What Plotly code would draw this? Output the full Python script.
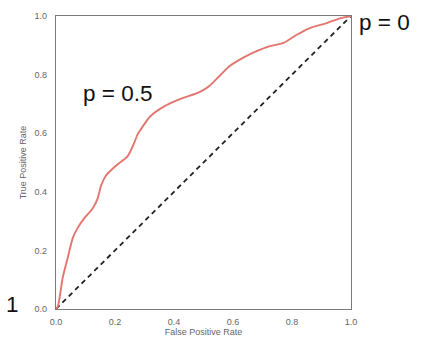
import plotly.graph_objects as go

# ROC curve (false positive rate vs. true positive rate)
fpr = [0.0, 0.006, 0.023, 0.04, 0.057, 0.073, 0.096, 0.124, 0.141, 0.153, 0.169,
       0.203, 0.243, 0.265, 0.277, 0.285, 0.319, 0.364, 0.42, 0.488, 0.522, 0.556,
       0.59, 0.635, 0.68, 0.725, 0.771, 0.816, 0.861, 0.918, 0.963, 1.0]
tpr = [0.0, 0.008, 0.108, 0.176, 0.243, 0.276, 0.31, 0.343, 0.377, 0.422, 0.455,
       0.489, 0.522, 0.567, 0.597, 0.609, 0.657, 0.69, 0.716, 0.741, 0.763, 0.797,
       0.83, 0.858, 0.88, 0.897, 0.908, 0.936, 0.959, 0.976, 0.992, 1.0]

# chance diagonal
diag = [0.0, 1.0]

tick_vals = [0.0, 0.2, 0.4, 0.6, 0.8, 1.0]
tick_text = ["0.0", "0.2", "0.4", "0.6", "0.8", "1.0"]

# threshold labels
labels = ["p = 0.5", "p = 0", "1"]

fig = go.Figure()
fig.add_trace(go.Scatter(x=diag, y=diag, mode="lines",
                         line=dict(color="#222222", width=1.8, dash="5px,4px"),
                         hoverinfo="skip"))
fig.add_trace(go.Scatter(x=fpr, y=tpr, mode="lines",
                         line=dict(color="#e3756f", width=1.9, shape="spline", smoothing=0.8)))

axis_common = dict(range=[0, 1], tickvals=tick_vals, ticktext=tick_text,
                   showgrid=False, zeroline=False, ticks="",
                   showline=True, linecolor="#7a7a7a", linewidth=1.2, mirror=True,
                   tickfont=dict(family="Liberation Sans, Arial", size=9, color="#666666"))

fig.update_xaxes(**axis_common, ticklabelstandoff=4,
                 title=dict(text="False Positive Rate", standoff=2,
                            font=dict(family="Liberation Sans, Arial", size=9, color="#666666")))
fig.update_yaxes(**axis_common, ticklabelstandoff=6,
                 title=dict(text="True Positive Rate", standoff=6,
                            font=dict(family="Liberation Sans, Arial", size=9, color="#666666")))

ann_font = dict(family="Liberation Sans, Arial", size=22.5, color="#111111")
fig.add_annotation(x=0.21, y=0.735, xref="paper", yref="paper", text=labels[0],
                   showarrow=False, xanchor="center", yanchor="middle", font=ann_font)
fig.add_annotation(x=1.02, y=0.977, xref="paper", yref="paper", text=labels[1],
                   showarrow=False, xanchor="left", yanchor="middle", font=ann_font)
fig.add_annotation(x=-0.146, y=0.015, xref="paper", yref="paper", text=labels[2],
                   showarrow=False, xanchor="center", yanchor="middle", font=ann_font)

fig.update_layout(width=423, height=348, showlegend=False,
                  margin=dict(l=56, r=72, t=11, b=39),
                  plot_bgcolor="white", paper_bgcolor="white")

fig.write_html("out.html")
